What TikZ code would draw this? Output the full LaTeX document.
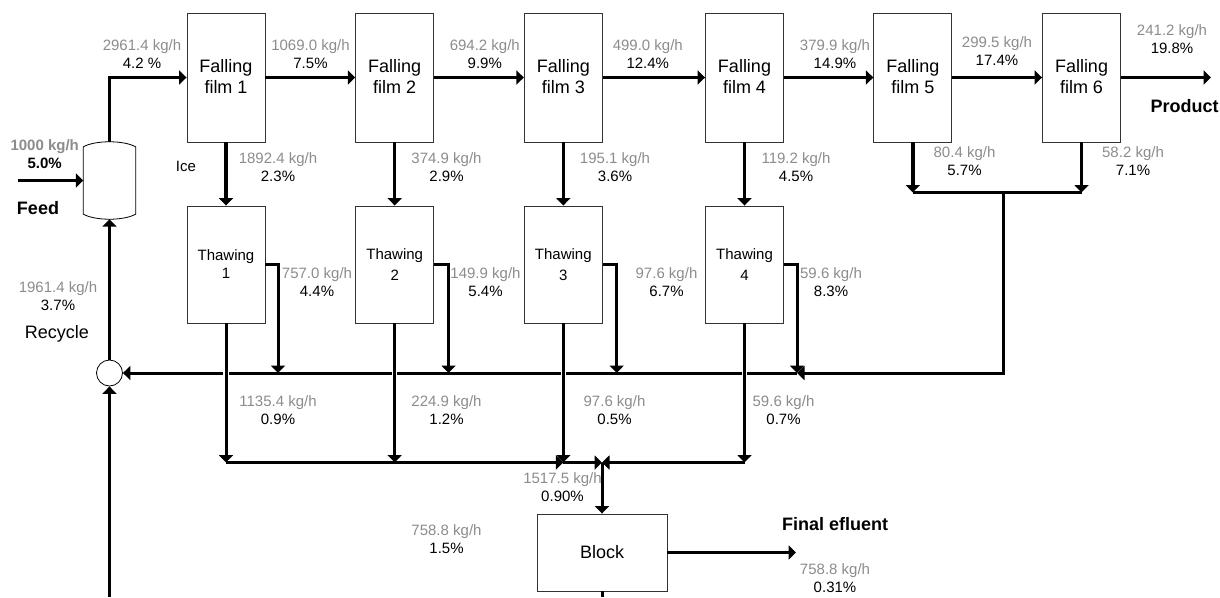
\documentclass[tikz,border=0pt]{standalone}
\usepackage{fontspec}
\setmainfont{Liberation Sans}
\usepackage{xcolor}
\usetikzlibrary{arrows.meta}
\definecolor{flowgray}{RGB}{140,140,140}

\begin{document}
\begin{tikzpicture}[
    x=1pt, y=-1pt,
    film/.style={draw=black!80, line width=0.9pt, inner sep=0pt, minimum width=78pt, minimum height=129pt, text depth=2pt, align=center, font=\fontsize{18}{20.7}\selectfont},
    thaw/.style={draw=black!80, line width=0.9pt, inner sep=0pt, minimum width=78pt, minimum height=117pt, align=center, font=\fontsize{15}{18}\selectfont},
    block/.style={draw=black!80, line width=0.9pt, inner sep=0pt, minimum width=130pt, minimum height=77pt, font=\fontsize{18}{20.7}\selectfont},
    flow/.style={inner sep=0pt, align=center, font=\fontsize{15}{18.3}\selectfont},
    tag/.style={inner sep=0pt, font=\fontsize{18}{20.7}\selectfont},
    tagb/.style={inner sep=0pt, font=\fontsize{18}{20.7}\selectfont\bfseries},
    arr/.style={-{Triangle[length=7.5pt,width=14pt]}, line width=3.4pt},
    bus/.style={line width=3pt},
    arrb/.style={-{Triangle[length=7.5pt,width=14pt]}, line width=3pt},
    over/.style={preaction={draw=white, line width=5.5pt, -, shorten <=5pt, shorten >=9pt}}
]
\useasboundingbox (0,0) rectangle (1220,597);

\node[film] (f1) at (226,77.5) {Falling\\film 1};
\node[film] (f2) at (394.7,77.5) {Falling\\film 2};
\node[film] (f3) at (563.3,77.5) {Falling\\film 3};
\node[film] (f4) at (744.5,77.5) {Falling\\film 4};
\node[film] (f5) at (912.8,77.5) {Falling\\film 5};
\node[film] (f6) at (1081.5,77.5) {Falling\\film 6};

\node[thaw] (t1) at (226,264.5) {Thawing\\1};
\node[thaw] (t2) at (394.7,264.5) {Thawing\\[3pt]2};
\node[thaw] (t3) at (563.3,264.5) {Thawing\\[3pt]3};
\node[thaw] (t4) at (744.5,264.5) {Thawing\\[3pt]4};

\node[block] (blk) at (602,552.5) {Block};
\node[inner sep=0pt, minimum width=52pt, minimum height=77pt] (tank) at (109.5,180.5) {};
\node[draw, circle, line width=0.8pt, inner sep=0pt, minimum size=26pt] (mix) at (109.5,373) {};

\draw[line width=0.8pt] ([yshift=-5pt]tank.north west) .. controls ([xshift=-14pt,yshift=1.7pt]tank.north) and ([xshift=14pt,yshift=1.7pt]tank.north) .. ([yshift=-5pt]tank.north east) -- ([yshift=5pt]tank.south east) .. controls ([xshift=14pt,yshift=-1.7pt]tank.south) and ([xshift=-14pt,yshift=-1.7pt]tank.south) .. ([yshift=5pt]tank.south west) -- cycle;

\coordinate (feed) at (18,180.5);
\coordinate (prod) at (1211,77.5);
\coordinate (eff) at (796,552.5);
\coordinate (rec) at (109.5,597);
\coordinate (out) at (602,597);
\coordinate (c5) at (912.8,192.5);
\coordinate (c6) at (1081.5,192.5);
\coordinate (c7) at (1003.5,192.5);
\coordinate (r1) at (278,373);
\coordinate (r2) at (448.5,373);
\coordinate (r3) at (616.7,373);
\coordinate (r4) at (797,373);
\coordinate (d1) at (226,462.5);
\coordinate (d2) at (394.7,462.5);
\coordinate (d3) at (563.3,462.5);
\coordinate (d4) at (744.5,462.5);
\coordinate (d5) at (602,462.5);

\draw[arr] (feed) -- (tank.west);
\draw[arr] (tank.north) |- (f1.west);
\draw[arr] (f1) -- (f2);
\draw[arr] (f2) -- (f3);
\draw[arr] (f3) -- (f4);
\draw[arr] (f4) -- (f5);
\draw[arr] (f5) -- (f6);
\draw[arr] (f6.east) -- (prod);

\draw[arr] (f1) -- (t1);
\draw[arr] (f2) -- (t2);
\draw[arr] (f3) -- (t3);
\draw[arr] (f4) -- (t4);
\draw[arr] (f5.south) -- (c5);
\draw[arr] (f6.south) -- (c6);
\draw[bus] (c5) -- (c6);

\draw[arrb] (c7) |- (r4);
\draw[arrb] (r4) -- (mix.east);
\draw[arrb] (t1.east) -| (r1);
\draw[arrb] (t2.east) -| (r2);
\draw[arrb] (t3.east) -| (r3);
\draw[arrb] (t4.east) -| (r4);

\draw[arrb] (d1) -- (d3);
\draw[arrb] (d3) -- (d5);
\draw[arrb] (d4) -- (d5);
\draw[arrb, over] (t1.south) -- (d1);
\draw[arrb, over] (t2.south) -- (d2);
\draw[arrb, over] (t3.south) -- (d3);
\draw[arrb, over] (t4.south) -- (d4);
\draw[arrb] (d5) -- (blk.north);
\draw[arrb] (blk.east) -- (eff);
\draw[bus] (blk.south -| out) -- (out);
\draw[arrb] (rec) -- (mix.south);
\draw[arrb] (mix.north) -- (tank.south);

\node[flow] (l1) at (142,54) {\textcolor{flowgray}{2961.4 kg/h}\\4.2 \%};
\node[flow] (l2) at (310.5,54) {\textcolor{flowgray}{1069.0 kg/h}\\7.5\%};
\node[flow] (l3) at (484.8,54) {\textcolor{flowgray}{694.2 kg/h}\\9.9\%};
\node[flow] (l4) at (647.8,54) {\textcolor{flowgray}{499.0 kg/h}\\12.4\%};
\node[flow] (l5) at (835,54) {\textcolor{flowgray}{379.9 kg/h}\\14.9\%};
\node[flow] (l6) at (997,51) {\textcolor{flowgray}{299.5 kg/h}\\17.4\%};
\node[flow] (l7) at (1172,39) {\textcolor{flowgray}{241.2 kg/h}\\19.8\%};

\node[flow] (i1) at (278,167) {\textcolor{flowgray}{1892.4 kg/h}\\2.3\%};
\node[flow] (i2) at (446.5,167) {\textcolor{flowgray}{374.9 kg/h}\\2.9\%};
\node[flow] (i3) at (615,167) {\textcolor{flowgray}{195.1 kg/h}\\3.6\%};
\node[flow] (i4) at (796,167) {\textcolor{flowgray}{119.2 kg/h}\\4.5\%};
\node[flow] (i5) at (964.5,161) {\textcolor{flowgray}{80.4 kg/h}\\5.7\%};
\node[flow] (i6) at (1133,161) {\textcolor{flowgray}{58.2 kg/h}\\7.1\%};

\node[flow] (m1) at (317,282) {\textcolor{flowgray}{757.0 kg/h}\\4.4\%};
\node[flow] (m2) at (485.5,282) {\textcolor{flowgray}{149.9 kg/h}\\5.4\%};
\node[flow] (m3) at (666.5,282) {\textcolor{flowgray}{97.6 kg/h}\\6.7\%};
\node[flow] (m4) at (831,282) {\textcolor{flowgray}{59.6 kg/h}\\8.3\%};

\node[flow] (w1) at (278,410) {\textcolor{flowgray}{1135.4 kg/h}\\0.9\%};
\node[flow] (w2) at (446.5,410) {\textcolor{flowgray}{224.9 kg/h}\\1.2\%};
\node[flow] (w3) at (614.5,410) {\textcolor{flowgray}{97.6 kg/h}\\0.5\%};
\node[flow] (w4) at (783.5,410) {\textcolor{flowgray}{59.6 kg/h}\\0.7\%};
\node[flow] (w5) at (562.5,487) {\textcolor{flowgray}{1517.5 kg/h}\\0.90\%};
\node[flow] (b1) at (446.5,539) {\textcolor{flowgray}{758.8 kg/h}\\1.5\%};
\node[flow] (b2) at (835,578) {\textcolor{flowgray}{758.8 kg/h}\\0.31\%};
\node[flow] (r0) at (58,296) {\textcolor{flowgray}{1961.4 kg/h}\\3.7\%};
\node[flow, font=\fontsize{15}{18.3}\selectfont\bfseries] (l0) at (44.7,154) {\textcolor{flowgray}{1000 kg/h}\\5.0\%};

\node[tagb] (feedtxt) at (38,208) {Feed};
\node[tagb] (prodtxt) at (1184.7,106) {Product};
\node[tagb] (efftxt) at (835,524) {Final efluent};
\node[tag] (rectxt) at (57,334) {Recycle};
\node[tag, font=\fontsize{15}{18}\selectfont] (icetxt) at (186,166) {Ice};
\end{tikzpicture}
\end{document}
